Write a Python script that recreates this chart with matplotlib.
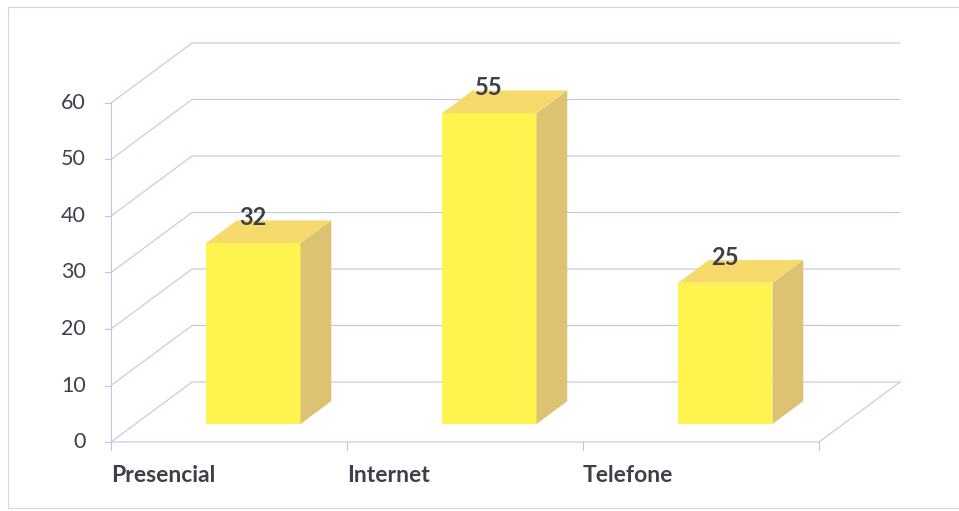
import matplotlib
matplotlib.use("Agg")
import matplotlib.pyplot as plt
from matplotlib.patches import Polygon, Rectangle

categories = ["Presencial", "Internet", "Telefone"]
values = [32, 55, 25]
yticks = [0, 10, 20, 30, 40, 50, 60]

FONT = ["Lato", "DejaVu Sans"]
GRID = "#bfc3e6"
FRONT = "#fff44f"
SIDE = "#dcc272"
TOP = "#f6da6c"
TXT = "#3f3f4a"

W, H = 959, 511
fig = plt.figure(figsize=(W / 100, H / 100), dpi=100)
ax = fig.add_axes([0, 0, 1, 1])
ax.set_xlim(-111 / 236, (W - 111) / 236)
ax.set_ylim((442 - H) / 5.65, 442 / 5.65)
ax.axis("off")

n = len(categories)
DX, DY = 81 / 236, 60 / 5.65      # oblique depth offset of the wall
d0, d1 = 0.30, 0.68                # bar depth range (fraction of wall depth)
bw = 0.40
LW = 0.75

# walls / gridlines
for v in yticks:
    ax.plot([0, DX, n + DX], [v, v + DY, v + DY], color=GRID, lw=LW, zorder=1)
    ax.plot([-0.025, 0], [v, v], color=GRID, lw=LW, zorder=1)
ax.plot([0, 0], [0, yticks[-1]], color=GRID, lw=LW, zorder=1)
ax.plot([0, n, n + DX], [0, 0, DY], color=GRID, lw=LW, zorder=1)
for i in range(n + 1):
    ax.plot([i, i], [0, -1.4], color=GRID, lw=LW, zorder=1)

for v in yticks:
    ax.text(-0.106, v, str(v), ha="right", va="center", fontsize=15.5,
            color=TXT, family=FONT)
for i, c in enumerate(categories):
    ax.text(i, -6.0, c, ha="left", va="center", fontsize=16.5, fontweight="bold",
            color=TXT, family=FONT)

# bars
centers = [i + 0.5 + d0 * DX for i in range(n)]
base = d0 * DY
ax.bar(centers, values, width=bw, bottom=base, color=FRONT, zorder=3, linewidth=0)
ddx, ddy = (d1 - d0) * DX, (d1 - d0) * DY
for cx, v in zip(centers, values):
    x0, x1 = cx - bw / 2, cx + bw / 2
    top = base + v
    ax.add_patch(Polygon([(x1, base), (x1 + ddx, base + ddy), (x1 + ddx, top + ddy), (x1, top)],
                         closed=True, fc=SIDE, ec="none", zorder=3))
    ax.add_patch(Polygon([(x0, top), (x1, top), (x1 + ddx, top + ddy), (x0 + ddx, top + ddy)],
                         closed=True, fc=TOP, ec="none", zorder=3))
    ax.text(cx, v + 7.7, str(v), ha="center", va="center", fontsize=17,
            fontweight="bold", color=TXT, family=FONT, zorder=4)

fig.add_artist(Rectangle((8 / W, 3 / H), 1.0, 501 / H, transform=fig.transFigure,
                         fill=False, ec="#d6d6d6", lw=0.8))

fig.savefig("out.png", dpi=100)
